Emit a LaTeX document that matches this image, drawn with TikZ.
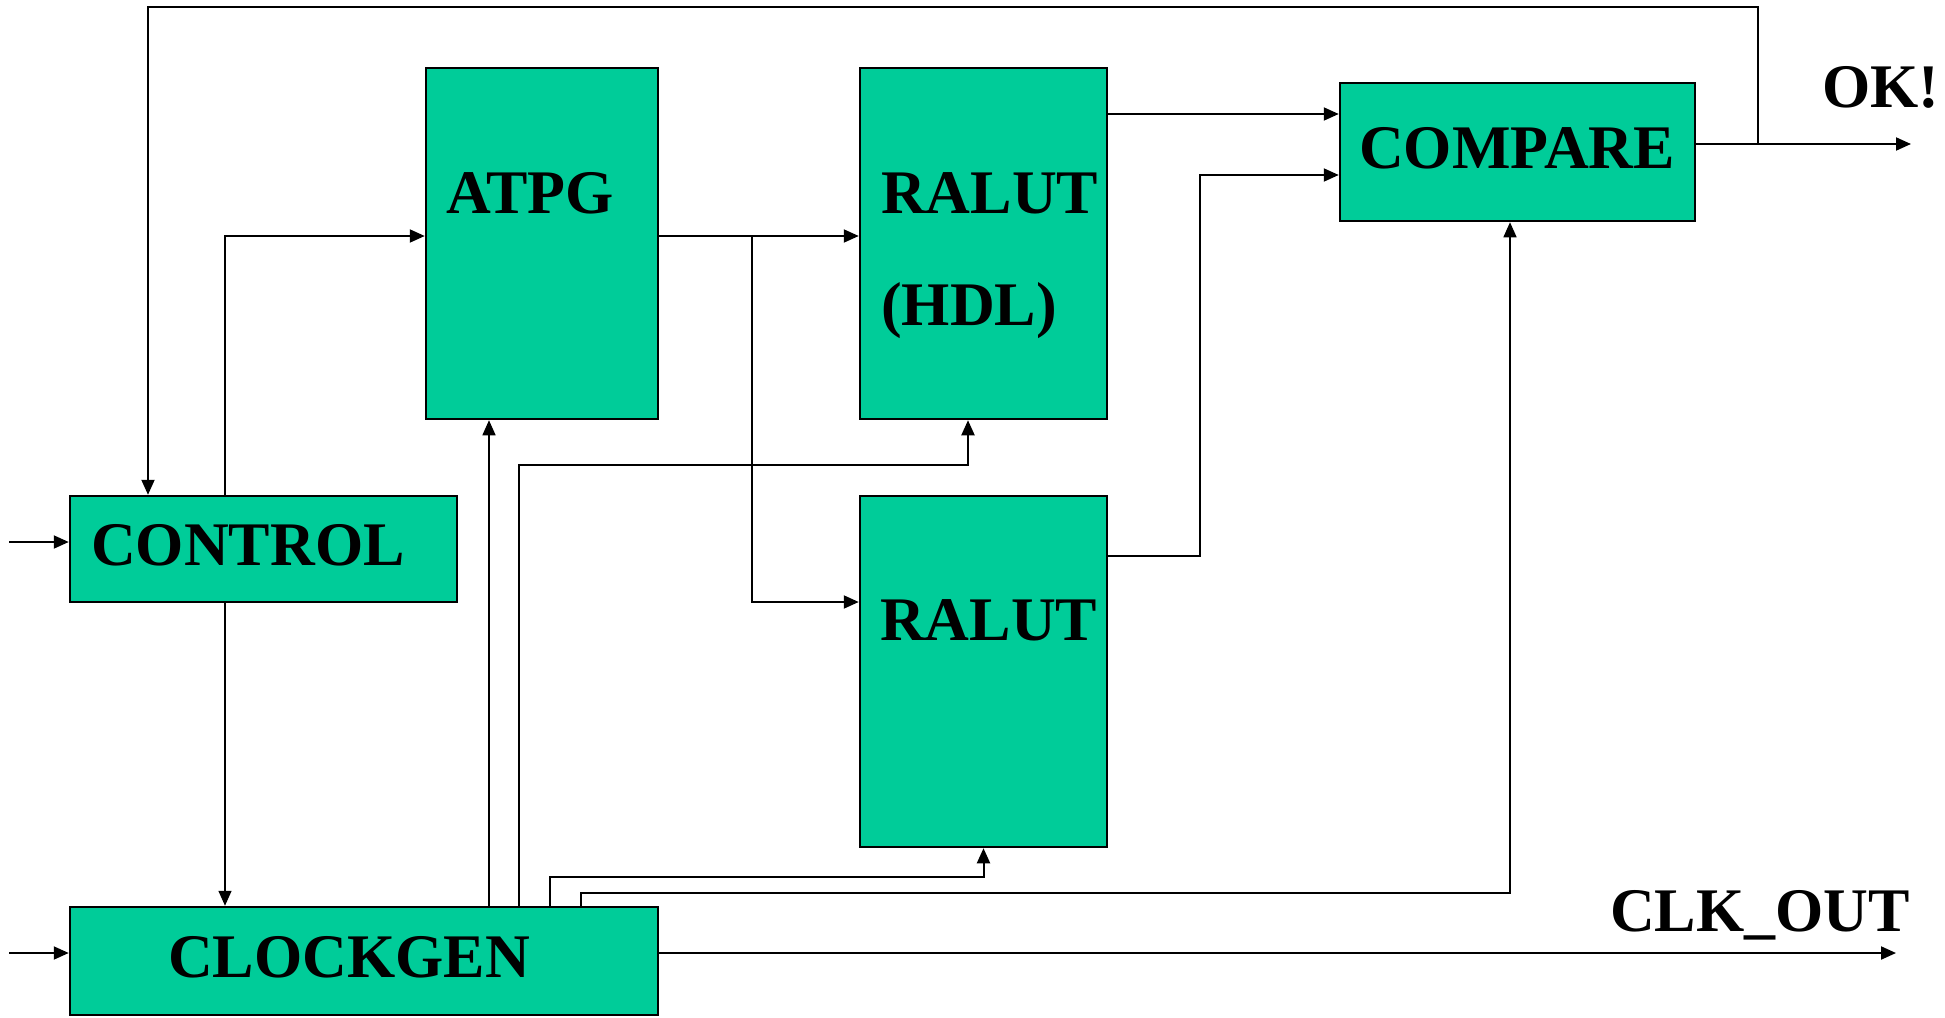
\documentclass[tikz,border=0pt]{standalone}
\usepackage{fontspec}
\setmainfont{Liberation Serif}
\usetikzlibrary{arrows.meta,positioning,calc}
\definecolor{boxgreen}{HTML}{00CC99}

\begin{document}
\begin{tikzpicture}[x=1pt,y=-1pt,
  blk/.style={draw=black,line width=2.5pt,fill=boxgreen,inner sep=0pt},
  lbl/.style={font=\fontsize{62}{74}\selectfont\bfseries,inner sep=0pt,anchor=base west},
  wire/.style={line width=2pt},
  arr/.style={wire,-{Triangle[length=15pt,width=13pt]}}]
\useasboundingbox (0,0) rectangle (1945,1017);
% blocks
\node[blk,minimum width=232pt,minimum height=351pt] (atpg) at (542,243.5) {};
\node[blk,minimum width=247pt,minimum height=351pt] (ralhdl) at (983.5,243.5) {};
\node[blk,minimum width=247pt,minimum height=351pt] (ralut) at (983.5,671.5) {};
\node[blk,minimum width=355pt,minimum height=138pt] (compare) at (1517.5,152) {};
\node[blk,minimum width=387pt,minimum height=106pt] (control) at (263.5,549) {};
\node[blk,minimum width=588pt,minimum height=108pt] (clockgen) at (364,961) {};
% texts
\node[lbl] (atpg-t) at (446,213) {ATPG};
\node[lbl] (ralhdl-t) at (881,213) {RALUT};
\node[lbl] (ralhdl-h) at (881,325) {(HDL)};
\node[lbl] (ralut-t) at (880,640) {RALUT};
\node[lbl] (compare-t) at (1359,168) {COMPARE};
\node[lbl] (control-t) at (91,565) {CONTROL};
\node[lbl] (clockgen-t) at (168,977) {CLOCKGEN};
\node[lbl] (ok) at (1822,107) {OK!};
\node[lbl] (clkout) at (1610,931) {CLK\_OUT};
% free ends
\coordinate (ctl-in) at (9,542);
\coordinate (clk-in) at (9,953);
\coordinate (split) at (752,236);
\coordinate (okj) at (1758,144);
\coordinate (ok-end) at (1911,144);
\coordinate (clk-end) at (1896,953);
% connectors
\draw[arr] (ctl-in) -- (control.west |- ctl-in);
\draw[arr] (clk-in) -- (clockgen.west |- clk-in);
\draw[arr] (control.north -| 225,0) |- (atpg.west |- split);
\draw[arr] (atpg.east |- split) -- (ralhdl.west |- split);
\draw[arr] (split) |- (ralut.west |- 0,602);
\draw[arr] (ralhdl.east |- 0,114) -- (compare.west |- 0,114);
\draw[arr] (ralut.east |- 0,556) -| (1200,175) -- (compare.west |- 0,175);
\draw[arr] (compare.east |- okj) -- (ok-end);
\draw[arr] (okj) -- (1758,7) -| (control.north -| 148,0);
\draw[arr,line width=1.5pt] (control.south -| 225,0) -- (clockgen.north -| 225,0);
\draw[arr,line width=1.5pt] (clockgen.north -| 489,0) -- (atpg.south -| 489,0);
\draw[arr] (clockgen.north -| 519,0) |- (968,465) -- (ralhdl.south -| 968,0);
\draw[arr] (clockgen.north -| 550,0) |- (983.5,877) -- (ralut.south);
\draw[arr,line width=1.5pt] (clockgen.north -| 581,0) |- (1510,893) -- (compare.south -| 1510,0);
\draw[arr] (clockgen.east |- clk-in) -- (clk-end);
\end{tikzpicture}
\end{document}
